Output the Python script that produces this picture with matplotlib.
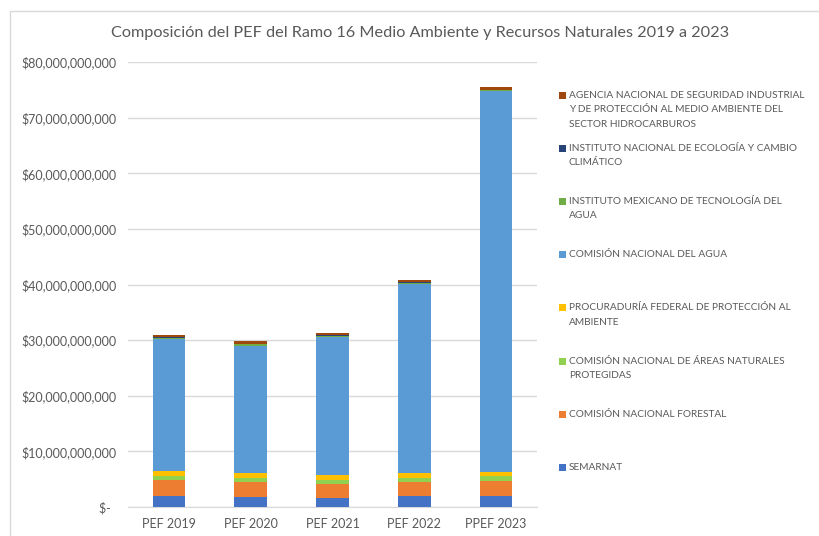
import numpy as np
import matplotlib
matplotlib.use("Agg")
import matplotlib.pyplot as plt
from matplotlib.patches import Rectangle
from matplotlib.ticker import FuncFormatter

plt.rcParams['font.family'] = ['Lato', 'DejaVu Sans']

# Presupuesto por unidad (miles de millones de pesos)
years = ["PEF 2019", "PEF 2020", "PEF 2021", "PEF 2022", "PPEF 2023"]
semarnat = [2.05, 1.80, 1.69, 2.05, 2.05]
conafor = [2.75, 2.70, 2.39, 2.45, 2.57]
conanp = [0.85, 0.78, 0.85, 0.78, 0.90]
profepa = [0.82, 0.83, 0.82, 0.83, 0.83]
conagua = [23.73, 22.90, 24.75, 33.94, 68.35]
imta = [0.25, 0.22, 0.25, 0.22, 0.25]
inecc = [0.10, 0.13, 0.10, 0.10, 0.10]
asea = [0.45, 0.42, 0.45, 0.38, 0.40]

series = [
    ("SEMARNAT", semarnat, "#4472C4"),
    ("COMISIÓN NACIONAL FORESTAL", conafor, "#ED7D31"),
    ("COMISIÓN NACIONAL DE ÁREAS NATURALES\nPROTEGIDAS", conanp, "#92D050"),
    ("PROCURADURÍA FEDERAL DE PROTECCIÓN AL\nAMBIENTE", profepa, "#FFC000"),
    ("COMISIÓN NACIONAL DEL AGUA", conagua, "#5B9BD5"),
    ("INSTITUTO MEXICANO DE TECNOLOGÍA DEL\nAGUA", imta, "#70AD47"),
    ("INSTITUTO NACIONAL DE ECOLOGÍA Y CAMBIO\nCLIMÁTICO", inecc, "#264478"),
    ("AGENCIA NACIONAL DE SEGURIDAD INDUSTRIAL\nY DE PROTECCIÓN AL MEDIO AMBIENTE DEL\nSECTOR HIDROCARBUROS", asea, "#9E480E"),
]

W, H = 820, 536
fig = plt.figure(figsize=(W / 100, H / 100), dpi=100)
txt = "#595959"
grid = "#D9D9D9"

# chart border
fig.patches.append(Rectangle((10 / W, -0.1), 1.0, 1.1 - 11 / H, transform=fig.transFigure,
                             fill=False, edgecolor=grid, linewidth=1))

ax = fig.add_axes([128 / W, 29 / H, 409 / W, 445 / H])
x = np.arange(len(years))
bottom = np.zeros(len(years))
for name, vals, col in series:
    v = np.array(vals) * 1e9
    ax.bar(x, v, 0.40, bottom=bottom, color=col, zorder=3)
    bottom += v

ax.set_xlim(-0.5, len(years) - 0.5)
ax.set_ylim(0, 80e9)
ax.set_yticks(np.arange(0, 80e9 + 1, 10e9))
ax.yaxis.set_major_formatter(FuncFormatter(lambda v, p: "$-  " if v == 0 else f"${v:,.0f}"))
ax.set_xticks(x)
ax.set_xticklabels(years)
ax.tick_params(length=0, labelsize=9, colors=txt)
ax.tick_params(axis="y", pad=8)
ax.tick_params(axis="x", pad=8)
ax.grid(axis="y", color=grid, linewidth=1, zorder=0)
for s in ["top", "right", "left"]:
    ax.spines[s].set_visible(False)
ax.spines["bottom"].set_color(grid)

fig.text(420 / W, 1 - 33 / H,
         "Composición del PEF del Ramo 16 Medio Ambiente y Recursos Naturales 2019 a 2023",
         ha="center", va="center", fontsize=11.7, color=txt)

# legend, drawn manually top to bottom
y0 = 95.5
step = 53.1
lh = 14.3
for i, (name, vals, col) in enumerate(reversed(series)):
    yc = y0 + i * step
    fig.patches.append(Rectangle((559 / W, 1 - (yc + 3.5) / H), 7 / W, 7 / H,
                                 transform=fig.transFigure, facecolor=col, edgecolor="none"))
    for j, line in enumerate(name.split("\n")):
        fig.text(569 / W, 1 - (yc + j * lh) / H, line, ha="left", va="center",
                 fontsize=7.3, color=txt)

fig.savefig("out.png", dpi=100)
